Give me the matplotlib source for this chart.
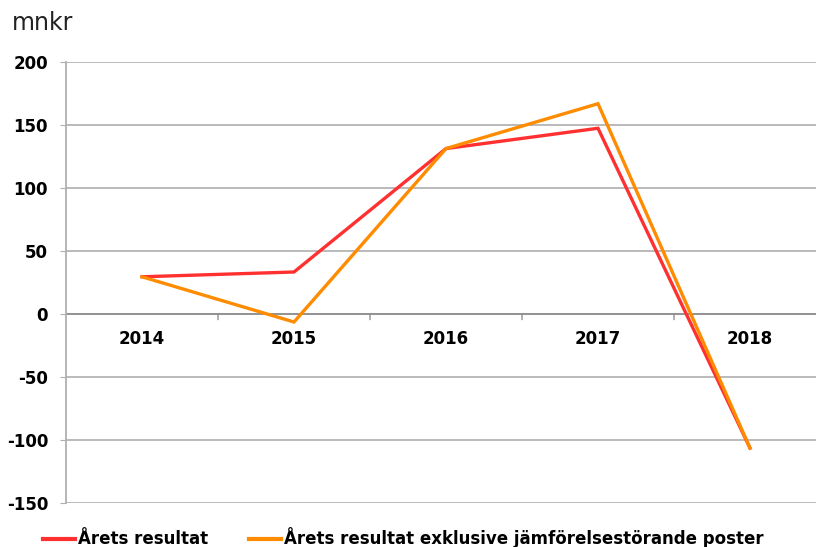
import matplotlib
matplotlib.use("Agg")
import matplotlib.pyplot as plt
from matplotlib.lines import Line2D

years = ["2014", "2015", "2016", "2017", "2018"]
arets_resultat = [29.6, 33.4, 131.4, 147.5, -106.4]
exkl_jmf = [29.6, -6.3, 131.4, 167.0, -106.4]
yticks = [-150, -100, -50, 0, 50, 100, 150, 200]
series_labels = ["Årets resultat", "Årets resultat exklusive jämförelsestörande poster"]
colors = ["#FF3030", "#FF8C00"]

fig = plt.figure(figsize=(8.16, 5.47), dpi=100)
ax = fig.add_axes([66 / 816, 0.0804, 760 / 816, 0.806])

x = list(range(len(years)))
ax.plot(x, arets_resultat, color=colors[0], lw=2.4, solid_joinstyle="miter", zorder=3, clip_on=False)
ax.plot(x, exkl_jmf, color=colors[1], lw=2.4, solid_joinstyle="miter", zorder=4, clip_on=False)

ax.set_xlim(-0.5, len(years) - 0.5)
ax.set_ylim(-150, 200)
ax.set_yticks(yticks)
ax.set_yticklabels([str(v) for v in yticks], fontweight="bold", fontsize=12, family="DejaVu Sans")
ax.tick_params(axis="y", length=4.3, color="#b0b0b0", pad=8.6)
ax.set_xticks([])
ax.grid(axis="y", color="#b4b4b4", lw=1.3)
ax.axhline(0, color="#909090", lw=1.3, zorder=1)
ax.set_axisbelow(True)
for s in ["top", "right", "bottom"]:
    ax.spines[s].set_visible(False)
ax.spines["left"].set_color("#b0b0b0")
ax.spines["left"].set_linewidth(1.3)

# category labels along zero line
for i, yr in enumerate(years):
    ax.annotate(yr, (i, 0), xytext=(0, -18), textcoords="offset points",
                ha="center", va="center", fontweight="bold", fontsize=12, family="DejaVu Sans")
# boundary ticks on zero line
for i in range(1, len(years)):
    ax.annotate("", (i - 0.5, 0), xytext=(0, -4), textcoords="offset points",
                arrowprops=dict(arrowstyle="-", color="#909090", lw=1.0, shrinkA=0, shrinkB=0))

fig.text(12 / 816, 1 - 23 / 547, "mnkr", fontsize=17, family="DejaVu Sans", color="#222222",
         va="center", ha="left")

handles = [Line2D([0], [0], color=c, lw=3) for c in colors]
leg = fig.legend(handles, series_labels, loc="center left", bbox_to_anchor=(43 / 816, 1 - 538 / 547),
                 ncol=2, frameon=False, handlelength=1.92, handletextpad=0.18, columnspacing=2.46,
                 borderpad=0, borderaxespad=0,
                 prop={"family": "DejaVu Sans", "weight": "bold", "size": 12})

fig.savefig("out.png", dpi=100)
